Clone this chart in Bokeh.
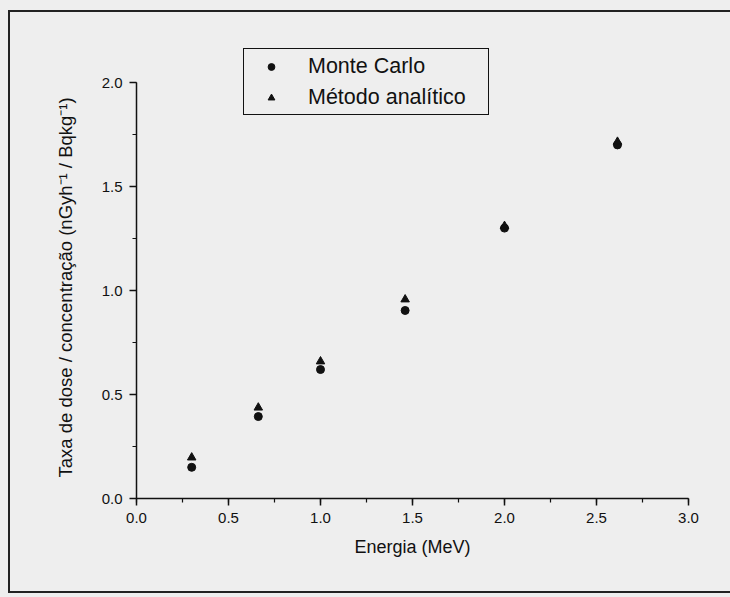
from bokeh.plotting import figure
from bokeh.models import (SingleIntervalTicker, PrintfTickFormatter, Legend,
                          LegendItem, Range1d, Title)
from bokeh.embed import file_html
from bokeh.resources import INLINE

# ---- data ----
energia = [0.30, 0.662, 1.0, 1.46, 2.0, 2.614]          # MeV
monte_carlo = [0.150, 0.394, 0.620, 0.904, 1.300, 1.700]
analitico = [0.197, 0.437, 0.659, 0.957, 1.310, 1.715]
serie_labels = ["Monte Carlo", "Método analítico"]
x_label = "Energia (MeV)"
y_label = "Taxa de dose / concentração (nGyh⁻¹ / Bqkg⁻¹)"

BG = "#eeeeee"
INK = "#111111"
FONT = "Liberation Sans"

# y range leaves head-room above 2.0 for the legend; the axis itself stops at 2.0
p = figure(width=730, height=597, output_backend="svg", toolbar_location=None,
           x_range=Range1d(0, 3), y_range=Range1d(0, 2.202),
           min_border_left=136, min_border_right=42,
           min_border_top=40, min_border_bottom=99,
           background_fill_color=BG, border_fill_alpha=0.0)
p.outline_line_color = None
p.xgrid.visible = False
p.ygrid.visible = False

# page background + scanned outer frame (left, top, bottom lines) drawn by CSS
p.styles = {
    "background": (
        "linear-gradient(#222,#222) 8px 10px / 2px 583px no-repeat, "
        "linear-gradient(#222,#222) 8px 10px / 722px 2px no-repeat, "
        "linear-gradient(#222,#222) 8px 591px / 722px 2px no-repeat, "
        + BG
    )
}

for ax in (p.xaxis[0], p.yaxis[0]):
    ax.ticker = SingleIntervalTicker(interval=0.5, num_minor_ticks=2)
    ax.formatter = PrintfTickFormatter(format="%.1f")
    ax.axis_line_color = INK
    ax.axis_line_width = 1.5
    ax.major_tick_line_color = INK
    ax.major_tick_line_width = 1.5
    ax.minor_tick_line_color = INK
    ax.minor_tick_line_width = 1.2
    ax.major_tick_in = 0
    ax.major_tick_out = 7
    ax.minor_tick_in = 0
    ax.minor_tick_out = 4
    ax.major_label_text_font = FONT
    ax.major_label_text_font_size = "15px"
    ax.major_label_text_color = INK
    ax.axis_label_text_font = FONT
    ax.axis_label_text_font_size = "18px"
    ax.axis_label_text_font_style = "normal"
    ax.axis_label_text_color = INK

p.xaxis.axis_label = x_label
p.xaxis.major_label_standoff = 7
p.xaxis.axis_label_standoff = 11
p.yaxis.bounds = (0, 2)
p.yaxis.major_label_standoff = 7

# y-axis title: starts a little above y=0, as in the reference
y_title = Title(text=y_label, align="left", offset=21, standoff=45,
                text_font=FONT, text_font_size="18.5px",
                text_font_style="normal", text_color=INK)
p.add_layout(y_title, "left")

r_mc = p.scatter(energia, monte_carlo, marker="circle", size=8,
                 fill_color=INK, line_color=INK)
r_an = p.scatter(energia, analitico, marker="triangle", size=8.5,
                 fill_color=INK, line_color=INK)

legend = Legend(items=[LegendItem(label=serie_labels[0], renderers=[r_mc]),
                       LegendItem(label=serie_labels[1], renderers=[r_an])],
                location=(107, 383))
legend.border_line_color = INK
legend.border_line_alpha = 1.0
legend.border_line_width = 1.5
legend.background_fill_color = BG
legend.background_fill_alpha = 1.0
legend.padding = 4
legend.margin = 0
legend.spacing = 5
legend.glyph_width = 46
legend.glyph_height = 17
legend.label_height = 26
legend.label_width = 176
legend.label_standoff = 14
legend.label_text_font = FONT
legend.label_text_font_size = "21.5px"
legend.label_text_color = INK
p.add_layout(legend)

open("out.html", "w").write(file_html(p, INLINE))
